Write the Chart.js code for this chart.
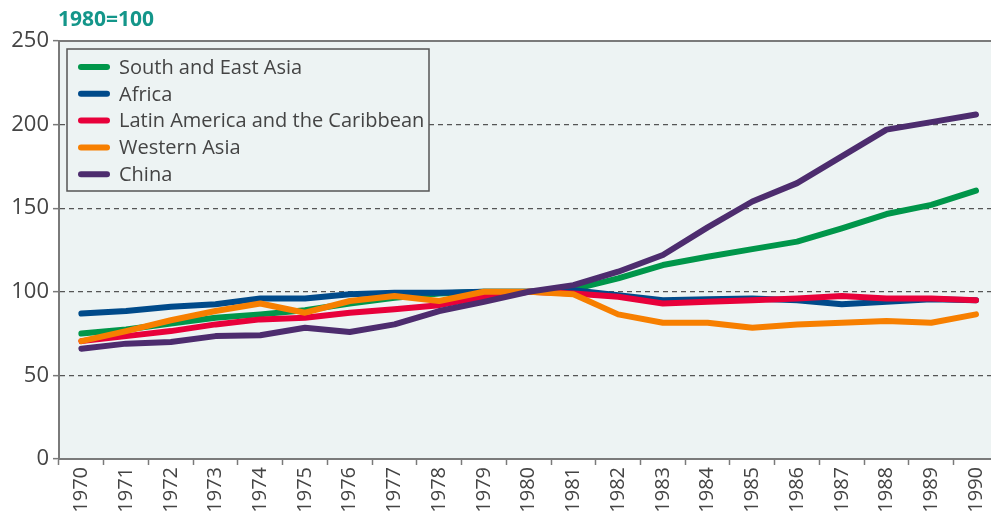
<!DOCTYPE html>
<html>
<head>
<meta charset="utf-8">
<script src="https://cdn.jsdelivr.net/npm/chart.js@4/dist/chart.umd.min.js"></script>
<style>
  html, body { margin: 0; padding: 0; background: #fff; overflow: hidden; }
  #wrap { width: 991px; height: 511px; overflow: hidden; }
  #wrap > div { width: 1002px; height: 540px; position: relative; }
</style>
</head>
<body>
<div id="wrap"><div><canvas id="myChart"></canvas></div></div>
<script>
// Данные (1980=100)
var years = ["1970", "1971", "1972", "1973", "1974", "1975", "1976", "1977", "1978", "1979", "1980",
  "1981", "1982", "1983", "1984", "1985", "1986", "1987", "1988", "1989", "1990"];
var southEastAsia = [75, 77.5, 81, 84.5, 86.5, 89, 93, 96.5, 99, 100, 100,
  101.5, 108, 116, 121, 125.5, 130, 138, 146.5, 152, 160.5];
var africa = [87, 88.5, 91, 92.5, 96, 96, 98.5, 99.5, 99.5, 100, 100,
  101, 98, 95, 95.5, 96, 95, 92.5, 94, 95.5, 95];
var latinAmerica = [70.5, 73.5, 76.5, 80.5, 83.5, 84.5, 87.5, 89.5, 92, 97, 100,
  99, 97, 93, 94, 95, 96, 97.5, 96, 96, 95];
var westernAsia = [70.5, 76.5, 83, 88.5, 93, 87.5, 94.5, 97.5, 94.5, 100, 100,
  98.5, 86.5, 81.5, 81.5, 78.5, 80.5, 81.5, 82.5, 81.5, 86.5];
var china = [66, 69, 70, 73.5, 74, 78.5, 76, 80.5, 88.5, 94, 100,
  104, 112, 122, 138.5, 154, 165, 181, 197, 201.5, 206];
var yTicks = [0, 50, 100, 150, 200, 250];

var seriesNames = ["South and East Asia", "Africa", "Latin America and the Caribbean", "Western Asia", "China"];
var seriesColors = ["#00964a", "#004a8a", "#e8003a", "#f77f00", "#4d2c6e"];
var seriesValues = [southEastAsia, africa, latinAmerica, westernAsia, china];

var FONT = "'Open Sans', sans-serif";
var LEFT = 59;   // левая граница области графика
var TOP = 41;    // верх (250)
var BOTTOM = 459; // низ (0)
var BG = "#edf3f3";

var datasets = seriesNames.map(function (name, i) {
  return {
    label: name,
    data: seriesValues[i],
    borderColor: seriesColors[i],
    backgroundColor: seriesColors[i],
    borderWidth: 6,
    pointRadius: 0,
    tension: 0,
    borderCapStyle: "round",
    borderJoinStyle: "round",
    fill: false,
    order: seriesNames.length - 1 - i, // последние серии рисуются сверху
  };
});

var decorPlugin = {
  id: "decor",
  beforeDraw: function (chart) {
    var c = chart.ctx, a = chart.chartArea;
    c.save();
    c.fillStyle = BG;
    c.fillRect(a.left, a.top, a.right - a.left, a.bottom - a.top);
    c.restore();
  },
  afterDatasetsDraw: function (chart) {
    var c = chart.ctx, a = chart.chartArea;
    c.save();
    // верхняя граница
    c.strokeStyle = "#7a7a7a";
    c.lineWidth = 2;
    c.beginPath();
    c.moveTo(a.left, a.top);
    c.lineTo(a.right, a.top);
    c.stroke();

    // заголовок оси
    c.fillStyle = "#14968a";
    c.font = "bold 21px " + FONT;
    c.textBaseline = "middle";
    c.textAlign = "left";
    c.fillText("1980=100", 58, 20);

    // легенда
    var bx = 67, by = 49, bw = 362, bh = 142;
    c.fillStyle = BG;
    c.fillRect(bx, by, bw, bh);
    c.strokeStyle = "#555";
    c.lineWidth = 1.5;
    c.strokeRect(bx, by, bw, bh);
    c.font = "20px " + FONT;
    c.lineCap = "round";
    chart.data.datasets.forEach(function (ds, i) {
      var y = 67 + i * 26.8;
      c.strokeStyle = ds.borderColor;
      c.lineWidth = 6;
      c.beginPath();
      c.moveTo(81, y);
      c.lineTo(107, y);
      c.stroke();
      c.fillStyle = "#444";
      c.fillText(ds.label, 119, y + 1);
    });
    c.restore();
  },
};

var ctx = document.getElementById("myChart").getContext("2d");
var myChart = new Chart(ctx, {
  type: "line",
  data: { labels: years, datasets: datasets },
  plugins: [decorPlugin],
  options: {
    responsive: true,
    maintainAspectRatio: false,
    animation: false,
    layout: { padding: { top: TOP, left: 0, right: 0, bottom: 0 } },
    plugins: { legend: { display: false }, tooltip: { enabled: false } },
    scales: {
      x: {
        offset: true,
        afterFit: function (s) { s.height = 540 - BOTTOM; },
        grid: {
          offset: true,
          drawOnChartArea: false,
          drawTicks: true,
          tickLength: 6,
          tickColor: "#7a7a7a",
          tickWidth: 1.5,
        },
        border: { color: "#7a7a7a", width: 2 },
        ticks: {
          minRotation: 90,
          maxRotation: 90,
          autoSkip: false,
          padding: 2,
          color: "#444",
          font: { family: FONT, size: 20 },
        },
      },
      y: {
        min: 0,
        max: 250,
        afterFit: function (s) { s.width = LEFT; },
        afterBuildTicks: function (s) {
          s.ticks = yTicks.map(function (v) { return { value: v }; });
        },
        grid: {
          color: function (c) { return c.tick.value === 0 || c.tick.value === 250 ? "rgba(0,0,0,0)" : "#555"; },
          lineWidth: 1.3,
          tickBorderDash: [],
          tickColor: "#7a7a7a",
          tickLength: 6,
          tickWidth: 1.5,
        },
        border: { color: "#7a7a7a", width: 2, dash: [5, 4] },
        ticks: {
          padding: 4,
          color: "#444",
          font: { family: FONT, size: 22 },
        },
      },
    },
  },
});
</script>
</body>
</html>
